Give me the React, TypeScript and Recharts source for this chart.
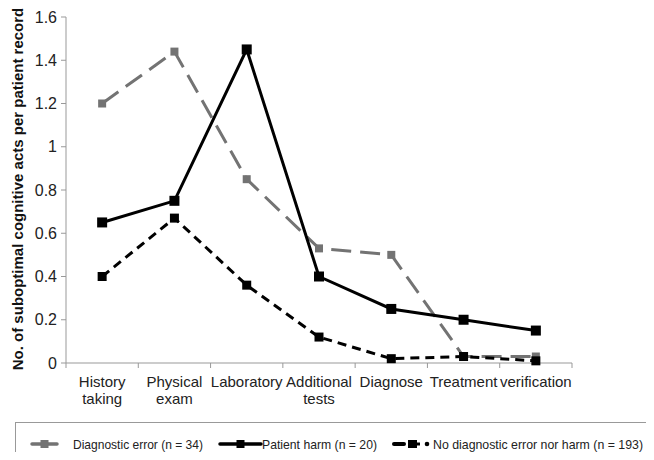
import { LineChart, Line, XAxis, YAxis } from "recharts";

const categories = [
  "History taking",
  "Physical exam",
  "Laboratory",
  "Additional tests",
  "Diagnose",
  "Treatment",
  "verification",
];
const diagnosticError = [1.2, 1.44, 0.85, 0.53, 0.5, 0.03, 0.03];
const patientHarm = [0.65, 0.75, 1.45, 0.4, 0.25, 0.2, 0.15];
const noErrorNoHarm = [0.4, 0.67, 0.36, 0.12, 0.02, 0.03, 0.01];
const yTicks = [0, 0.2, 0.4, 0.6, 0.8, 1, 1.2, 1.4, 1.6];

const data = categories.map((c, i) => ({
  name: c,
  diag: diagnosticError[i],
  harm: patientHarm[i],
  none: noErrorNoHarm[i],
}));

const W = 654;
const H = 460;
const M = { top: 17, right: 82, left: 0, bottom: 47 };
const Y_W = 66;
const BW = (W - M.left - M.right - Y_W) / categories.length;
const FONT = "'Liberation Sans', Arial, sans-serif";

const series = [
  { key: "diag", label: "Diagnostic error (n = 34)", color: "#737373", dash: "20 9", size: 8 },
  { key: "harm", label: "Patient harm (n = 20)", color: "#000", dash: undefined, size: 10 },
  { key: "none", label: "No diagnostic error nor harm (n = 193)", color: "#000", dash: "9 6", size: 9 },
];

// legend layout: [sample start, sample end, text start, text width]
const legendSlots = [
  [32, 57, 73, 130],
  [220, 261, 262, 115],
  [392, 430, 433, 210],
];

const square = (color: string, size: number) => (props: any) => {
  const { cx, cy, index } = props;
  if (cx == null || cy == null) return <g key={index} />;
  return (
    <rect key={index} x={cx - size / 2} y={cy - size / 2} width={size} height={size} fill={color} />
  );
};

const XTick = (props: any) => {
  const { x, y, payload, index } = props;
  const words = String(payload.value).split(" ");
  return (
    <g>
      <line x1={x - BW / 2} x2={x - BW / 2} y1={y} y2={y + 5} stroke="#999" />
      {index === categories.length - 1 && (
        <line x1={x + BW / 2} x2={x + BW / 2} y1={y} y2={y + 5} stroke="#999" />
      )}
      <text x={x} y={y + 24} textAnchor="middle" fontSize={15} fill="#222" fontFamily={FONT}>
        {words.map((w, i) => (
          <tspan key={i} x={x} dy={i === 0 ? 0 : 17}>
            {w}
          </tspan>
        ))}
      </text>
    </g>
  );
};

const YLabel = (props: any) => {
  const vb = props.viewBox || {};
  const cy = (vb.y ?? M.top) + (vb.height ?? 346) / 2;
  return (
    <text
      x={0}
      y={0}
      transform={`translate(23, ${cy - 1}) rotate(-90)`}
      textAnchor="middle"
      fontSize={15}
      fontWeight="bold"
      fill="#111"
      fontFamily={FONT}
    >
      No. of suboptimal cognitive acts per patient record
    </text>
  );
};

const LegendBox = () => {
  const cy = 444;
  return (
    <svg width={W} height={H} style={{ position: "absolute", left: 0, top: 0, pointerEvents: "none" }}>
      <rect x={15.5} y={422.5} width={660} height={44} fill="none" stroke="#999" />
      {series.map((s, i) => {
        const [a, b, tx, tw] = legendSlots[i];
        const mid = (a + b) / 2;
        return (
          <g key={s.key}>
            {s.key === "none" ? (
              <>
                <line x1={a + 2} x2={a + 12} y1={cy} y2={cy} stroke="#000" strokeWidth={4} strokeLinecap="round" />
                <rect x={a + 16} y={cy - 4} width={9} height={8} fill="#000" />
                <line x1={a + 24} x2={a + 28} y1={cy} y2={cy} stroke="#000" strokeWidth={3} />
                <circle cx={b - 3} cy={cy} r={2.3} fill="#000" />
              </>
            ) : (
              <>
                <line x1={a} x2={b} y1={cy} y2={cy} stroke={s.color} strokeWidth={3.5} strokeLinecap="round" />
                <rect x={mid - 4} y={cy - 4} width={8} height={8} fill={s.color} />
              </>
            )}
            <text
              x={tx}
              y={cy + 5}
              fontSize={13}
              fill="#222"
              fontFamily={FONT}
              textLength={tw}
              lengthAdjust="spacingAndGlyphs"
            >
              {s.label}
            </text>
          </g>
        );
      })}
    </svg>
  );
};

export default function App() {
  return (
    <div style={{ margin: -8, width: W, height: H, background: "#fff", position: "relative", overflow: "hidden" }}>
      <LineChart width={W} height={H} data={data} margin={M}>
        <XAxis
          dataKey="name"
          scale="band"
          interval={0}
          tickLine={false}
          tickSize={0}
          tickMargin={0}
          axisLine={{ stroke: "#999" }}
          tick={<XTick />}
          height={50}
        />
        <YAxis
          domain={[0, 1.6]}
          ticks={yTicks}
          width={Y_W}
          interval={0}
          tickLine={{ stroke: "#999" }}
          tickSize={5}
          tickMargin={4}
          axisLine={{ stroke: "#999" }}
          tick={{ fontSize: 16, fill: "#222", fontFamily: FONT }}
          label={<YLabel />}
        />
        {series.map((s) => (
          <Line
            key={s.key}
            dataKey={s.key}
            stroke={s.color}
            strokeWidth={3}
            strokeDasharray={s.dash}
            dot={square(s.color, s.size)}
            activeDot={false}
            isAnimationActive={false}
          />
        ))}
      </LineChart>
      <LegendBox />
    </div>
  );
}
